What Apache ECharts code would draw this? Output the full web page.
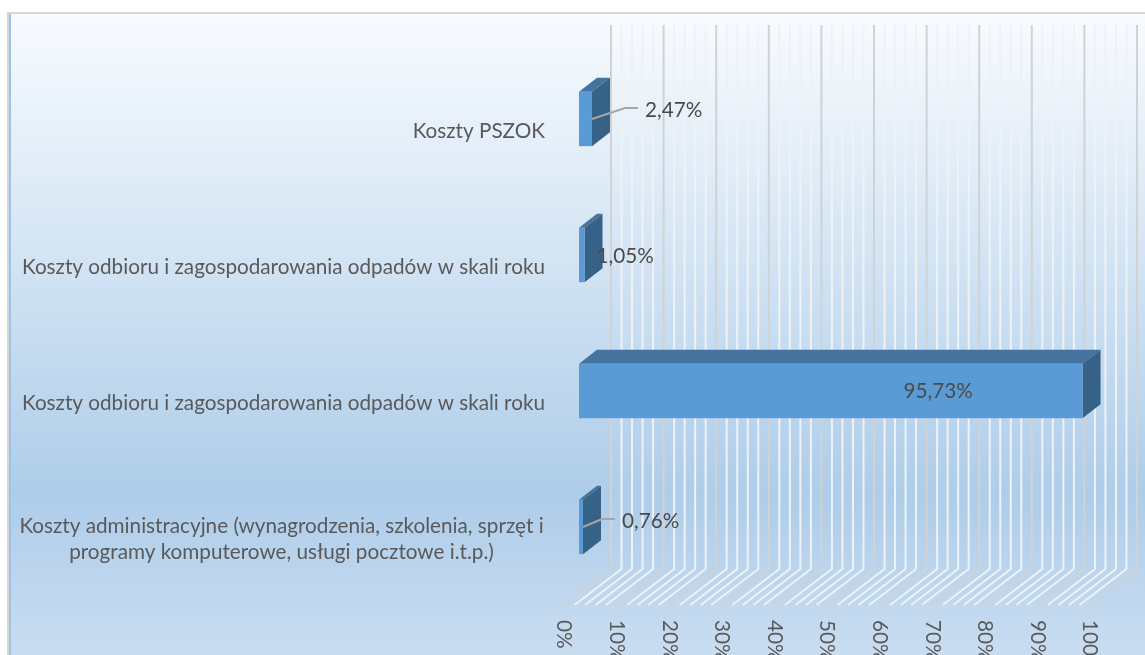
<!DOCTYPE html>
<html><head><meta charset="utf-8">
<style>html,body{margin:0;padding:0;background:#fff;overflow:hidden}#c{width:1145px;height:655px}</style>
<script src="https://cdn.jsdelivr.net/npm/echarts@6/dist/echarts.min.js"></script>
</head><body><div id="c"></div>
<script>
const categories = [
  'Koszty administracyjne (wynagrodzenia, szkolenia, sprzęt i\nprogramy komputerowe, usługi pocztowe i.t.p.)',
  'Koszty odbioru i zagospodarowania odpadów w skali roku',
  'Koszty odbioru i zagospodarowania odpadów w skali roku',
  'Koszty PSZOK'
];
const values = [0.76, 95.73, 1.05, 2.47];
const majorTicks = [0,10,20,30,40,50,60,70,80,90,100];
const minorTicks = [2,4,6,8,12,14,16,18,22,24,26,28,32,34,36,38,42,44,46,48,52,54,56,58,62,64,66,68,72,74,76,78,82,84,86,88,92,94,96,98];
// label placement relative to the bar end
const labelLayout = [
  {x: 39, y: -6, leader: true},
  {x: -179, y: 0, leader: false},
  {x: 12, y: 1, leader: false},
  {x: 53, y: -9, leader: true}
];
const FONT = 'Lato, "Open Sans", sans-serif';
const depth = [18, -14];
const wall = [47, -36];

function gridRender(params, api) {
  const t = api.value(0);
  const f = api.coord([t, 0]);
  const top = api.coord([t, 1]);
  const major = t % 10 === 0;
  return {
    type: 'polyline',
    shape: {points: [[f[0], f[1]], [f[0] + wall[0], f[1] + wall[1]], [f[0] + wall[0], top[1]]]},
    style: {fill: null, stroke: major ? '#d0d2d4' : '#eef2f6', lineWidth: 2}
  };
}
function barRender(params, api) {
  const v = api.value(0), cat = api.value(1);
  const end = api.coord([v, cat]);
  const start = api.coord([0, cat]);
  const h = api.size([0, 1])[1] * 0.4;
  const x0 = start[0], x1 = end[0], y0 = end[1] - h / 2, y1 = end[1] + h / 2;
  const [dx, dy] = depth;
  const kids = [
    {type: 'polygon', shape: {points: [[x0, y0], [x1, y0], [x1 + dx, y0 + dy], [x0 + dx, y0 + dy]]}, style: {fill: '#44739f'}},
    {type: 'polygon', shape: {points: [[x1, y0], [x1 + dx, y0 + dy], [x1 + dx, y1 + dy], [x1, y1]]}, style: {fill: '#376287'}},
    {type: 'rect', shape: {x: x0, y: y0, width: x1 - x0, height: y1 - y0}, style: {fill: '#5b9bd5'}}
  ];
  const lay = labelLayout[params.dataIndex];
  const tx = x1 + lay.x, ty = end[1] + lay.y;
  if (lay.leader) {
    kids.push({type: 'polyline', shape: {points: [[x1, end[1]], [tx - 20, ty - 2], [tx - 7, ty - 2]]},
      style: {fill: null, stroke: '#a6a6a6', lineWidth: 2}});
  }
  kids.push({type: 'text', style: {x: tx, y: ty, text: values[params.dataIndex].toFixed(2).replace('.', ',') + '%',
    fill: '#4a4a4a', font: '20.7px ' + FONT, textAlign: 'left', textVerticalAlign: 'middle'}});
  return {type: 'group', children: kids};
}

const chart = echarts.init(document.getElementById('c'), null, {renderer: 'canvas'});
chart.setOption({
  animation: false,
  backgroundColor: '#fff',
  graphic: [
    {type: 'rect', z: -10, silent: true, shape: {x: 10, y: 14, width: 1135, height: 641},
      style: {fill: new echarts.graphic.LinearGradient(0, 0, 0, 1, [
        {offset: 0, color: '#f8fbff'},
        {offset: 0.3, color: '#dbe9f6'},
        {offset: 0.75, color: '#aecde9'},
        {offset: 1, color: '#c9ddf1'}])}},
    {type: 'rect', z: -9, silent: true, shape: {x: 7, y: 12, width: 1138, height: 2}, style: {fill: '#d6d6d4'}},
    {type: 'rect', z: -9, silent: true, shape: {x: 7, y: 12, width: 2, height: 643}, style: {fill: '#d6d6d4'}},
    {type: 'rect', z: -9, silent: true, shape: {x: 9, y: 14, width: 2, height: 641}, style: {fill: '#9cc3e8'}}
  ],
  grid: [
    {left: 579, width: 526, top: 51, height: 544, outerBoundsMode: 'none'},
    {left: 564, width: 526, top: 25, height: 580, outerBoundsMode: 'none'}
  ],
  xAxis: [
    {gridIndex: 0, type: 'value', min: 0, max: 100, interval: 10, show: false},
    {gridIndex: 1, type: 'value', min: 0, max: 100, interval: 10,
      axisLine: {show: false}, axisTick: {show: false}, splitLine: {show: false},
      axisLabel: {rotate: -90, margin: 15, color: '#595959', fontSize: 20.7, fontFamily: FONT, formatter: '{value}%', hideOverlap: false, showMinLabel: true, showMaxLabel: true}}
  ],
  yAxis: [
    {gridIndex: 0, type: 'category', data: categories,
      axisLine: {show: false}, axisTick: {show: false}, splitLine: {show: false},
      axisLabel: {margin: 34, interval: 0, color: '#595959', fontSize: 20.7, fontFamily: FONT, padding: [24, 0, 0, 0],
        formatter: function (s) {
          return s.indexOf('\n') < 0 ? s : s.split('\n').map(function (l) { return '{c|' + l + '}'; }).join('\n');
        },
        rich: {c: {width: 527, align: 'center', color: '#595959', fontSize: 20.7, fontFamily: FONT, lineHeight: 26}}}},
    {gridIndex: 1, type: 'value', min: 0, max: 1, show: false}
  ],
  series: [
    {type: 'custom', xAxisIndex: 1, yAxisIndex: 1, z: 1, clip: false, silent: true,
      data: minorTicks.map(function (t) { return [t]; }), encode: {x: 0}, renderItem: gridRender},
    {type: 'custom', xAxisIndex: 1, yAxisIndex: 1, z: 2, clip: false, silent: true,
      data: majorTicks.map(function (t) { return [t]; }), encode: {x: 0}, renderItem: gridRender},
    {type: 'custom', xAxisIndex: 0, yAxisIndex: 0, z: 5, clip: false, silent: true,
      data: values.map(function (v, i) { return [v, i]; }), encode: {x: 0, y: 1}, renderItem: barRender}
  ]
});
</script></body></html>
